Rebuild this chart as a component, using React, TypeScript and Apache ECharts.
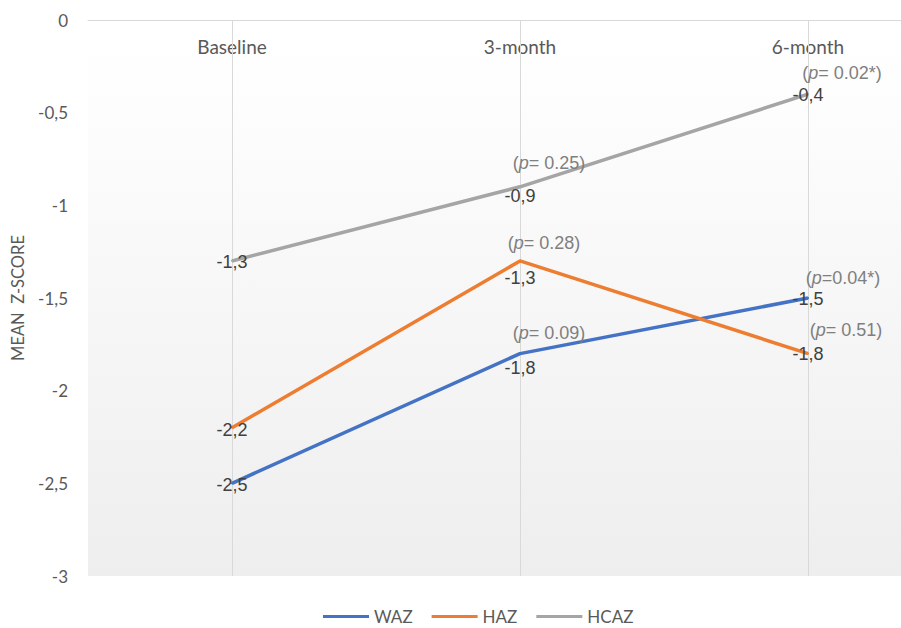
import React, { useEffect, useRef } from 'react';
import * as echarts from 'echarts';

const categories = ['Baseline', '3-month', '6-month'];
const seriesNames = ['WAZ', 'HAZ', 'HCAZ'];
const wazValues = [-2.5, -1.8, -1.5];
const hazValues = [-2.2, -1.3, -1.8];
const hcazValues = [-1.3, -0.9, -0.4];
const wazPLabels = ['', '= 0.09', '=0.04*'];
const hazPLabels = ['', '= 0.28', '= 0.51'];
const hcazPLabels = ['', '= 0.25', '= 0.02*'];
const yMin = -3;
const yMax = 0;
const yStep = 0.5;

// layout (label offsets in px)
const valueOffsets = [
  [[0, 2], [0, 14], [0, 1]],
  [[0, 2], [0, 17], [0, 0]],
  [[0, 1], [0, 9], [0, 1]],
];
const pOffsets = [
  [[0, 0], [29, -21], [35, -20]],
  [[0, 0], [24, -18], [38, -24]],
  [[0, 0], [29, -24], [34, -21]],
];
const colors = ['#4472C4', '#ED7D31', '#A5A5A5'];

const fmt = (v: number) => (Math.round(v * 10) / 10).toString().replace('.', ',');

export default function App() {
  const ref = useRef<HTMLDivElement>(null);
  useEffect(() => {
    document.body.style.margin = '0';
    const chart = echarts.init(ref.current!, undefined, { renderer: 'svg' });
    const allValues = [wazValues, hazValues, hcazValues];
    const allP = [wazPLabels, hazPLabels, hcazPLabels];

    const mainSeries = allValues.map((vals, si) => ({
      name: seriesNames[si],
      type: 'line',
      data: vals.map((v, i) => ({ value: v, label: { offset: valueOffsets[si][i] } })),
      color: colors[si],
      lineStyle: { width: 3.5, color: colors[si] },
      symbol: 'circle',
      symbolSize: 2,
      showSymbol: true,
      itemStyle: { color: colors[si] },
      silent: true,
      z: 3 + si,
      label: {
        show: true,
        position: 'inside',
        color: '#404040',
        fontSize: 18,
        fontFamily: 'Liberation Sans, Arial, sans-serif',
        formatter: (p: any) => fmt(p.value),
      },
      ...(si === 0
        ? {
            markLine: {
              silent: true,
              symbol: 'none',
              label: { show: false },
              lineStyle: { color: '#d9d9d9', width: 1, type: 'solid' },
              z: 1,
              data: categories.map((c) => ({ xAxis: c })),
            },
          }
        : {}),
    }));

    const pSeries = allValues.map((vals, si) => ({
      name: seriesNames[si] + '-p',
      type: 'line',
      data: vals.map((v, i) =>
        allP[si][i] ? { value: v, label: { offset: pOffsets[si][i] } } : '-'
      ),
      lineStyle: { width: 0, opacity: 0 },
      symbol: 'circle',
      symbolSize: 2,
      showSymbol: true,
      itemStyle: { color: 'rgba(0,0,0,0)' },
      silent: true,
      z: 10,
      label: {
        show: true,
        position: 'inside',
        formatter: (p: any) => '{a|(}{i|p}{a|' + allP[si][p.dataIndex] + ')}',
        rich: {
          a: { color: '#7f7f7f', fontSize: 18, fontFamily: 'Liberation Sans, Arial, sans-serif' },
          i: {
            color: '#7f7f7f',
            fontSize: 18,
            fontStyle: 'italic',
            fontFamily: 'Liberation Sans, Arial, sans-serif',
          },
        },
      },
    }));

    chart.setOption({
      animation: false,
      grid: {
        left: 88,
        top: 20,
        width: 864,
        height: 556,
        outerBoundsMode: 'none',
        containLabel: false,
        show: true,
        borderWidth: 0,
        backgroundColor: {
          type: 'linear',
          x: 0,
          y: 0,
          x2: 0,
          y2: 1,
          colorStops: [
            { offset: 0, color: '#ffffff' },
            { offset: 0.15, color: '#fdfdfd' },
            { offset: 1, color: '#eeeeee' },
          ],
        },
      },
      legend: {
        data: seriesNames,
        left: 323,
        top: 608,
        padding: 0,
        icon: 'rect',
        itemWidth: 46,
        itemHeight: 3,
        itemGap: 19,
        textStyle: { color: '#595959', fontSize: 17, lineHeight: 16, fontFamily: 'Lato, sans-serif' },
      },
      xAxis: {
        type: 'category',
        data: categories,
        position: 'top',
        boundaryGap: true,
        axisLine: { show: true, lineStyle: { color: '#d9d9d9', width: 1 } },
        axisTick: { show: false },
        splitLine: { show: false },
        axisLabel: {
          inside: true,
          margin: 17,
          color: '#595959',
          fontSize: 19,
          fontFamily: 'Lato, sans-serif',
        },
      },
      yAxis: {
        type: 'value',
        min: yMin,
        max: yMax,
        interval: yStep,
        name: 'MEAN  Z-SCORE',
        nameLocation: 'middle',
        nameGap: 62,
        nameTextStyle: { color: '#595959', fontSize: 16.5, fontFamily: 'Lato, sans-serif' },
        axisLine: { show: false },
        axisTick: { show: false },
        splitLine: { show: false },
        axisLabel: {
          margin: 20,
          color: '#595959',
          fontSize: 17,
          fontFamily: 'Lato, sans-serif',
          formatter: (v: number) => fmt(v),
        },
      },
      series: [...mainSeries, ...pSeries],
    });
    return () => chart.dispose();
  }, []);
  return <div ref={ref} style={{ width: 901, height: 628 }} />;
}
